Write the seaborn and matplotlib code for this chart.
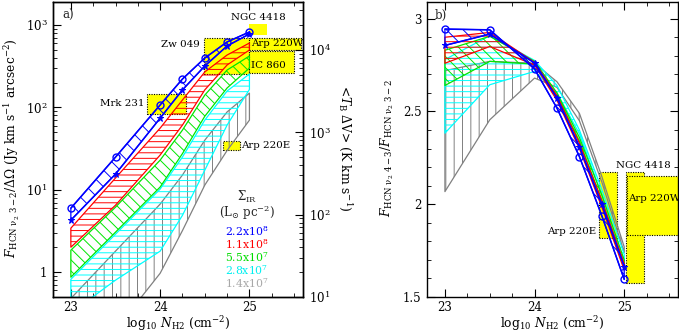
import numpy as np
import pandas as pd
import matplotlib
matplotlib.use("Agg")
import matplotlib.pyplot as plt
import matplotlib.ticker as mticker
from matplotlib.patches import Rectangle
import seaborn as sns

# ---------------- data ----------------
logN = [23.0, 23.5, 24.0, 24.25, 24.5, 24.75, 25.0]
sigma_ir = ["2.2x10$^{8}$", "1.1x10$^{8}$", "5.5x10$^{7}$", "2.8x10$^{7}$", "1.4x10$^{7}$"]

# panel a: F(HCN v2 3-2)/dOmega  (Jy km s-1 arcsec-2), band limits per Sigma_IR
a_blue_hi = [5.98, 24.9, 107, 221, 397, 622, 822]
a_blue_lo = [4.28, 15.5, 74, 163, 318, 556, 778]
a_red_hi = [3.42, 13.9, 56, 123, 269, 432, 604]
a_red_lo = [2.01, 6.5, 26.4, 61, 163, 327, 497]
a_green_hi = [1.85, 6.15, 22.9, 53, 141, 284, 420]
a_green_lo = [0.87, 3.06, 10.8, 27.5, 78, 172, 300]
a_cyan_hi = [0.82, 2.89, 10.2, 25.0, 70, 158, 254]
a_cyan_lo = [0.32, 0.80, 1.8, 4.9, 17.3, 61, 165]
a_grey_hi = [0.48, 1.8, 6.7, 15.1, 40, 88, 149]
a_grey_lo = [0.06, 0.2, 0.97, 3.2, 11.4, 30, 70]

# panel b: F(4-3)/F(3-2)
b_blue_hi = [2.944, 2.940, 2.729, 2.518, 2.257, 1.938, 1.595]
b_blue_lo = [2.856, 2.917, 2.761, 2.572, 2.311, 2.000, 1.664]
b_red_hi = [2.900, 2.926, 2.765, 2.585, 2.330, 2.020, 1.680]
b_red_lo = [2.760, 2.850, 2.750, 2.560, 2.300, 1.985, 1.645]
b_green_hi = [2.830, 2.905, 2.770, 2.600, 2.360, 2.050, 1.700]
b_green_lo = [2.640, 2.770, 2.755, 2.585, 2.340, 2.020, 1.670]
b_cyan_hi = [2.780, 2.908, 2.775, 2.640, 2.400, 2.080, 1.730]
b_cyan_lo = [2.383, 2.644, 2.716, 2.600, 2.380, 2.050, 1.680]
b_grey_hi = [2.720, 2.770, 2.760, 2.660, 2.490, 2.150, 1.770]
b_grey_lo = [2.068, 2.455, 2.680, 2.630, 2.450, 2.120, 1.740]

# observed galaxies (x range, y range)
gal_a_names = ["Zw 049", "IC 860", "Arp 220W", "NGC 4418", "Mrk 231", "Arp 220E"]
gal_a_x = [(24.49, 25.00), (25.00, 25.50), (25.00, 25.58), (24.99, 25.20), (23.85, 24.29), (24.70, 24.89)]
gal_a_y = [(254, 701), (259, 487), (497, 689), (756, 1020), (82, 144), (30.3, 39.3)]

gal_b_names = ["Arp 220E", "NGC 4418", "Arp 220W"]
gal_b_x = [(24.716, 24.918), (25.015, 25.217), (25.034, 25.70)]
gal_b_y = [(1.817, 2.176), (1.574, 2.176), (1.835, 2.153)]

# ---------------- style ----------------
sns.set_theme(style="ticks")
plt.rcParams["font.family"] = ["DejaVu Serif"]
plt.rcParams["mathtext.fontset"] = "dejavuserif"
plt.rcParams.update({
    "hatch.linewidth": 0.7,
    "xtick.direction": "in", "ytick.direction": "in",
    "xtick.top": True, "ytick.right": True,
    "xtick.major.size": 6, "ytick.major.size": 6,
    "xtick.minor.size": 3, "ytick.minor.size": 3,
    "xtick.major.width": 0.8, "ytick.major.width": 0.8,
    "xtick.minor.width": 0.6, "ytick.minor.width": 0.6,
    "axes.linewidth": 1.0, "axes.edgecolor": "black",
    "xtick.color": "black", "ytick.color": "black",
    "xtick.labelsize": 8.5, "ytick.labelsize": 8.5,
    "xtick.major.pad": 3, "ytick.major.pad": 4,
})

band_col = ["#0000ff", "#ff0000", "#00e600", "#00ffff", "#808080"]
txt_col = ["#0000ff", "#ff0000", "#00dd00", "#00f0f0", "#a8a8a8"]
hatches = ["\\\\", "---", "\\\\\\", "---", "||"]

fig = plt.figure(figsize=(6.79, 3.32), dpi=100)
W, H = 679.0, 332.0
axa = fig.add_axes([53 / W, 35 / H, 250 / W, 295 / H])
axb = fig.add_axes([427 / W, 35 / H, 251 / W, 295 / H])


def logfmt(v, pos):
    e = int(round(np.log10(v)))
    return "1" if e == 0 else r"10$^{%d}$" % e


# ---------------- panel a ----------------
axa.set_yscale("log")
axa.set_xlim(22.8, 25.6)
axa.set_ylim(0.5, 1900)

for (x0, x1), (y0, y1), name in zip(gal_a_x, gal_a_y, gal_a_names):
    edge = "none" if name == "NGC 4418" else "black"
    axa.add_patch(Rectangle((x0, y0), x1 - x0, y1 - y0, facecolor="#ffff00",
                            edgecolor=edge, linestyle=(0, (1, 1.2)), linewidth=0.8, zorder=1))

bands_a = [(a_grey_lo, a_grey_hi), (a_cyan_lo, a_cyan_hi), (a_green_lo, a_green_hi),
           (a_red_lo, a_red_hi), (a_blue_lo, a_blue_hi)]
for i, (lo, hi) in enumerate(bands_a):
    k = 4 - i
    axa.fill_between(logN, lo, hi, facecolor="none", edgecolor=band_col[k],
                     hatch=hatches[k], linewidth=0.9, zorder=2 + i * 0.1)

dfa = pd.DataFrame({"logN": logN, "hi": a_blue_hi, "lo": a_blue_lo})
sns.lineplot(data=dfa, x="logN", y="hi", ax=axa, color="#0000ff", marker="o",
             markerfacecolor="none", markeredgecolor="#0000ff", markersize=5,
             markeredgewidth=1.0, linewidth=1.1, zorder=5)
sns.lineplot(data=dfa, x="logN", y="lo", ax=axa, color="#0000ff", marker="*",
             markeredgecolor="#0000ff", markersize=5, linewidth=1.1, zorder=5)

axa.set_xlabel("")
axa.set_ylabel("")
axa.xaxis.set_major_locator(mticker.FixedLocator([23, 24, 25]))
axa.xaxis.set_minor_locator(mticker.MultipleLocator(0.25))
axa.xaxis.set_major_formatter(mticker.FormatStrFormatter("%d"))
axa.yaxis.set_major_locator(mticker.LogLocator(base=10, numticks=10))
axa.yaxis.set_minor_locator(mticker.LogLocator(base=10, subs=np.arange(2, 10), numticks=20))
axa.yaxis.set_major_formatter(mticker.FuncFormatter(logfmt))
axa.yaxis.set_minor_formatter(mticker.NullFormatter())
axa.tick_params(axis="y", which="both", right=False)
axa.tick_params(axis="x", which="both", top=True)

tw = axa.twinx()
tw.set_yscale("log")
tw.set_ylim(10, 38000)
tw.yaxis.set_major_locator(mticker.LogLocator(base=10, numticks=10))
tw.yaxis.set_minor_locator(mticker.LogLocator(base=10, subs=np.arange(2, 10), numticks=20))
tw.yaxis.set_major_formatter(mticker.FuncFormatter(logfmt))
tw.yaxis.set_minor_formatter(mticker.NullFormatter())
tw.tick_params(axis="y", which="both", direction="in", left=False, right=True)
tw.grid(False)

ann = dict(fontsize=7.4, color="black", zorder=6)
axa.text(25.10, 1230, "NGC 4418", ha="center", va="center", **ann)
axa.text(24.44, 572, "Zw 049", ha="right", va="center", **ann)
axa.text(25.02, 590, "Arp 220W", ha="left", va="center", **ann)
axa.text(25.02, 318, "IC 860", ha="left", va="center", **ann)
axa.text(23.82, 110, "Mrk 231", ha="right", va="center", **ann)
axa.text(24.91, 34.8, "Arp 220E", ha="left", va="center", **ann)
axa.text(0.036, 0.955, "a)", transform=axa.transAxes, fontsize=8.5, ha="left", va="center")

lx = 0.776
axa.text(lx, 0.339, r"$\Sigma_{\rm IR}$", transform=axa.transAxes, ha="center", va="center", fontsize=8.5)
axa.text(lx, 0.285, r"(L$_{\odot}$ pc$^{-2}$)", transform=axa.transAxes, ha="center", va="center", fontsize=8.5)
for j, (lab, c) in enumerate(zip(sigma_ir, txt_col)):
    axa.text(lx, 0.207 - j * 0.044, lab, transform=axa.transAxes, ha="center",
             va="baseline", fontsize=7.8, color=c)

# ---------------- panel b ----------------
axb.set_xlim(22.8, 25.6)
axb.set_ylim(1.5, 3.09)
for (x0, x1), (y0, y1), name in zip(gal_b_x, gal_b_y, gal_b_names):
    axb.add_patch(Rectangle((x0, y0), x1 - x0, y1 - y0, facecolor="#ffff00",
                            edgecolor="black", linestyle=(0, (1, 1.2)), linewidth=0.8, zorder=1))

bands_b = [(b_grey_lo, b_grey_hi), (b_cyan_lo, b_cyan_hi), (b_green_lo, b_green_hi),
           (b_red_lo, b_red_hi), (b_blue_lo, b_blue_hi)]
for i, (lo, hi) in enumerate(bands_b):
    k = 4 - i
    axb.fill_between(logN, lo, hi, facecolor="none", edgecolor=band_col[k],
                     hatch=hatches[k], linewidth=0.9, zorder=2 + i * 0.1)

dfb = pd.DataFrame({"logN": logN, "hi": b_blue_hi, "lo": b_blue_lo})
sns.lineplot(data=dfb, x="logN", y="hi", ax=axb, color="#0000ff", marker="o",
             markerfacecolor="none", markeredgecolor="#0000ff", markersize=5,
             markeredgewidth=1.0, linewidth=1.1, zorder=5)
sns.lineplot(data=dfb, x="logN", y="lo", ax=axb, color="#0000ff", marker="*",
             markeredgecolor="#0000ff", markersize=5, linewidth=1.1, zorder=5)
axb.set_xlabel("")
axb.set_ylabel("")
axb.xaxis.set_major_locator(mticker.FixedLocator([23, 24, 25]))
axb.xaxis.set_minor_locator(mticker.MultipleLocator(0.25))
axb.xaxis.set_major_formatter(mticker.FormatStrFormatter("%d"))
axb.yaxis.set_major_locator(mticker.MultipleLocator(0.5))
axb.yaxis.set_minor_locator(mticker.MultipleLocator(0.1))
axb.yaxis.set_major_formatter(mticker.FormatStrFormatter("%g"))
axb.tick_params(which="both", top=True, right=True)

axb.text(25.21, 2.21, "NGC 4418", ha="center", va="center", **ann)
axb.text(25.04, 2.03, "Arp 220W", ha="left", va="center", **ann)
axb.text(24.69, 1.852, "Arp 220E", ha="right", va="center", **ann)
axb.text(0.032, 0.955, "b)", transform=axb.transAxes, fontsize=8.5, ha="left", va="center")

# ---------------- axis labels ----------------
lab = dict(fontsize=8.8, color="black")
fig.text(178 / W, 1 - 324 / H, r"log$_{10}$ $N_{\rm H2}$ (cm$^{-2}$)", ha="center", va="center", **lab)
fig.text(552 / W, 1 - 324 / H, r"log$_{10}$ $N_{\rm H2}$ (cm$^{-2}$)", ha="center", va="center", **lab)
fig.text(12 / W, 1 - 148 / H,
         r"$F_{\rm HCN\ \nu_2\ 3-2}/\Delta\Omega$ (Jy km s$^{-1}$ arcsec$^{-2}$)",
         rotation=90, ha="center", va="center", **lab)
fig.text(345 / W, 1 - 148 / H, r"<$T_{\rm B}$ $\Delta$V> (K km s$^{-1}$)",
         rotation=270, ha="center", va="center", **lab)
fig.text(387 / W, 1 - 148 / H, r"$F_{\rm HCN\ \nu_2\ 4-3}/F_{\rm HCN\ \nu_2\ 3-2}$",
         rotation=90, ha="center", va="center", **lab)

fig.savefig("out.png", dpi=100)
